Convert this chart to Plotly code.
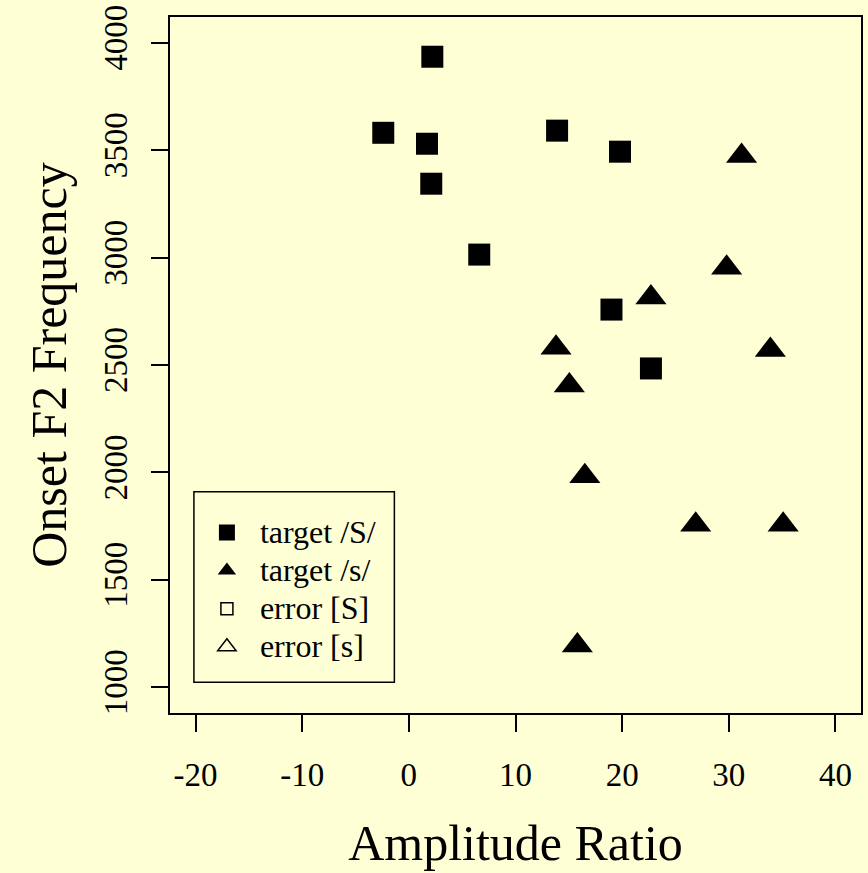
import plotly.graph_objects as go

# Data
sh_x = [2.2, -2.4, 1.7, 2.1, 6.6, 13.9, 19.8, 19.0, 22.7]
sh_y = [3935, 3581, 3530, 3344, 3014, 3591, 3493, 2758, 2484]

s_x = [31.2, 29.8, 22.7, 13.8, 33.9, 15.05, 16.5, 26.9, 35.1, 15.8]
s_y = [3473, 2953, 2814, 2580, 2570, 2404, 1982, 1756, 1756, 1194]

x_ticks = [-20, -10, 0, 10, 20, 30, 40]
y_ticks = [1000, 1500, 2000, 2500, 3000, 3500, 4000]

legend_names = ["target /S/", "target /s/", "error [S]", "error [s]"]

BG = "#FFFFD6"
FONT = "Liberation Serif"


def lg(name):
    return "<span style='font-size:32px'>" + name + "&nbsp;</span>"


fig = go.Figure()
fig.add_trace(go.Scatter(x=sh_x, y=sh_y, mode="markers", name=lg(legend_names[0]),
                         marker=dict(symbol="square", size=22, color="black", line=dict(width=0))))
fig.add_trace(go.Scatter(x=s_x, y=s_y, mode="markers", name=lg(legend_names[1]),
                         marker=dict(symbol="triangle-up", size=27, color="black", line=dict(width=0))))
fig.add_trace(go.Scatter(x=[None], y=[None], mode="markers", name=lg(legend_names[2]),
                         marker=dict(symbol="square-open", size=12, color="black", line=dict(width=1.5))))
fig.add_trace(go.Scatter(x=[None], y=[None], mode="markers", name=lg(legend_names[3]),
                         marker=dict(symbol="triangle-up-open", size=16, color="black", line=dict(width=1.5))))

# legend frame
fig.add_shape(type="rect", xref="paper", yref="paper",
              x0=0.0346, x1=0.3247, y0=0.0442, y1=0.318,
              line=dict(color="black", width=1.5), fillcolor="rgba(0,0,0,0)", layer="above")

fig.update_layout(
    width=868, height=873,
    margin=dict(l=170, r=5, t=12, b=160),
    paper_bgcolor=BG, plot_bgcolor=BG,
    font=dict(family=FONT, color="black", size=33),
    showlegend=True,
    legend=dict(x=0.0346, y=0.294, xanchor="left", yanchor="top",
                bgcolor="rgba(0,0,0,0)", borderwidth=0,
                font=dict(family=FONT, size=27, color="black"),
                itemwidth=56, itemsizing="trace", tracegroupgap=0),
)
fig.update_xaxes(range=[-22.4, 42.4], tickmode="array", tickvals=x_ticks,
                 ticktext=[str(v) for v in x_ticks],
                 showgrid=False, zeroline=False, showline=True, mirror=True,
                 linecolor="black", linewidth=2, ticks="outside", ticklen=17,
                 tickwidth=2, tickcolor="black", tickfont=dict(size=33),
                 ticklabelstandoff=14, ticklabeloverflow="allow",
                 title=dict(text="Amplitude Ratio", font=dict(size=50), standoff=33))
fig.update_yaxes(range=[880, 4120], tickmode="array", tickvals=y_ticks,
                 ticktext=[str(v) for v in y_ticks], tickangle=-90,
                 showgrid=False, zeroline=False, showline=True, mirror=True,
                 linecolor="black", linewidth=2, ticks="outside", ticklen=17,
                 tickwidth=2, tickcolor="black", tickfont=dict(size=33),
                 ticklabelstandoff=11, ticklabeloverflow="allow",
                 title=dict(text="Onset F2 Frequency", font=dict(size=50), standoff=15))

fig.write_html("out.html")
